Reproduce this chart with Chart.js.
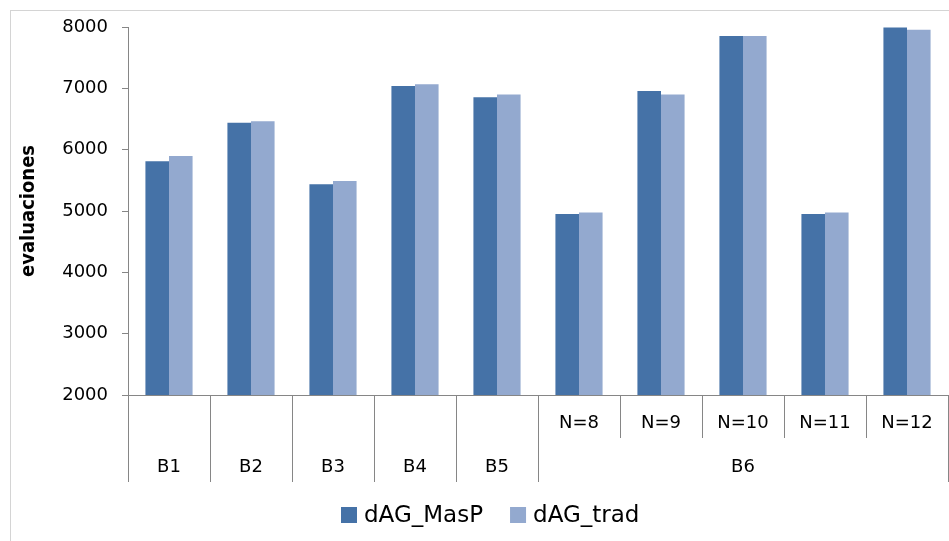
<!DOCTYPE html>
<html>
<head>
<meta charset="utf-8">
<script src="https://cdn.jsdelivr.net/npm/chart.js@4.4.1/dist/chart.umd.min.js"></script>
<style>
  html, body { margin: 0; padding: 0; background: #ffffff; }
  #wrap { width: 949px; height: 541px; position: relative; }
</style>
</head>
<body>
<div id="wrap"><canvas id="chart" width="949" height="541"></canvas></div>
<script>
// Inner labels (second row) and outer group labels (bottom row) for each category
const innerLabels = ['', '', '', '', '', 'N=8', 'N=9', 'N=10', 'N=11', 'N=12'];
const groupLabels = ['B1', 'B2', 'B3', 'B4', 'B5', 'B6', 'B6', 'B6', 'B6', 'B6'];

// Number of evaluations per benchmark
const seriesNames = ['dAG_MasP', 'dAG_trad'];
const masP = [5810, 6440, 5435, 7040, 6855, 4950, 6955, 7855, 4950, 7990];
const trad = [5895, 6465, 5490, 7065, 6900, 4975, 6900, 7855, 4975, 7955];

// Value axis ticks
const yTicks = [2000, 3000, 4000, 5000, 6000, 7000, 8000];

const categories = innerLabels.map((s, i) => s ? groupLabels[i] + ' ' + s : groupLabels[i]);

const FONT = "'DejaVu Sans', sans-serif";
const AXIS_GRAY = '#868686';

// Outer frame around the whole chart
const framePlugin = {
  id: 'frame',
  beforeDraw(chart) {
    const ctx = chart.ctx;
    ctx.save();
    ctx.strokeStyle = '#d4d4d4';
    ctx.lineWidth = 1;
    ctx.strokeRect(10.5, 10.5, 1000, 600);
    ctx.restore();
  }
};

// Two-row category axis with separators, plus the legend underneath
const groupAxisPlugin = {
  id: 'groupAxis',
  afterDraw(chart) {
    const ctx = chart.ctx;
    const x = chart.scales.x;
    const top = chart.chartArea.bottom;
    const n = innerLabels.length;
    const w = (x.getPixelForValue(1) - x.getPixelForValue(0));
    const fullBottom = top + 87;
    const innerBottom = top + 43;
    const innerMid = top + 28;
    const outerMid = top + 72;

    ctx.save();
    ctx.strokeStyle = AXIS_GRAY;
    ctx.lineWidth = 1;
    ctx.fillStyle = '#000000';
    ctx.font = '18px ' + FONT;
    ctx.textAlign = 'center';
    ctx.textBaseline = 'middle';

    // boundaries between categories
    for (let i = 0; i <= n; i++) {
      const bx = Math.round(x.getPixelForValue(0) - w / 2 + i * w) + 0.5;
      const sameGroupBoth = i > 0 && i < n && groupLabels[i - 1] === groupLabels[i];
      ctx.beginPath();
      ctx.moveTo(bx, top);
      ctx.lineTo(bx, sameGroupBoth ? innerBottom : fullBottom);
      ctx.stroke();
    }

    // inner labels
    for (let i = 0; i < n; i++) {
      if (innerLabels[i]) {
        ctx.fillText(innerLabels[i], x.getPixelForValue(i), innerMid);
      }
    }

    // group labels, merged over consecutive identical entries
    let start = 0;
    for (let i = 1; i <= n; i++) {
      if (i === n || groupLabels[i] !== groupLabels[start]) {
        const cx = (x.getPixelForValue(start) + x.getPixelForValue(i - 1)) / 2;
        ctx.fillText(groupLabels[start], cx, outerMid);
        start = i;
      }
    }

    // legend
    const ds = chart.data.datasets;
    ctx.font = '23px ' + FONT;
    ctx.textAlign = 'left';
    const box = 16, gapText = 7, gapItem = 27;
    const widths = ds.map(d => ctx.measureText(d.label).width);
    let total = 0;
    widths.forEach((tw, i) => { total += box + gapText + tw + (i < widths.length - 1 ? gapItem : 0); });
    let lx = Math.round(490 - total / 2);
    const ly = 515;
    ds.forEach((d, i) => {
      ctx.fillStyle = d.backgroundColor;
      ctx.fillRect(lx, ly - box / 2, box, box);
      ctx.fillStyle = '#000000';
      ctx.fillText(d.label, lx + box + gapText, ly + 1);
      lx += box + gapText + widths[i] + gapItem;
    });
    ctx.restore();
  }
};

new Chart(document.getElementById('chart'), {
  type: 'bar',
  data: {
    labels: categories,
    datasets: [
      { label: seriesNames[0], data: masP, backgroundColor: '#4572A7', borderWidth: 0 },
      { label: seriesNames[1], data: trad, backgroundColor: '#93A9CF', borderWidth: 0 }
    ]
  },
  options: {
    responsive: false,
    animation: false,
    events: [],
    layout: { padding: { top: 27, right: 1, bottom: 0, left: 0 } },
    datasets: { bar: { categoryPercentage: 0.575, barPercentage: 1.0 } },
    plugins: {
      legend: { display: false },
      tooltip: { enabled: false }
    },
    scales: {
      x: {
        type: 'category',
        offset: true,
        grid: { display: false },
        border: { display: true, color: AXIS_GRAY, width: 1 },
        ticks: { display: false },
        afterFit(scale) { scale.height = 541 - 395; }
      },
      y: {
        min: yTicks[0],
        max: yTicks[yTicks.length - 1],
        afterBuildTicks(scale) { scale.ticks = yTicks.map(v => ({ value: v })); },
        grid: { drawOnChartArea: false, drawTicks: true, tickLength: 6, color: AXIS_GRAY },
        border: { display: true, color: AXIS_GRAY, width: 1 },
        ticks: {
          font: { family: FONT, size: 18 },
          color: '#000000',
          padding: 14,
          callback: (v) => String(v)
        },
        title: {
          display: true,
          text: 'evaluaciones',
          font: { family: "'DejaVu Sans Condensed', 'DejaVu Sans', sans-serif", size: 20, weight: 'bold' },
          color: '#000000',
          padding: { top: 17, bottom: 0 }
        },
        afterFit(scale) { scale.width = 128; }
      }
    }
  },
  plugins: [framePlugin, groupAxisPlugin]
});
</script>
</body>
</html>
